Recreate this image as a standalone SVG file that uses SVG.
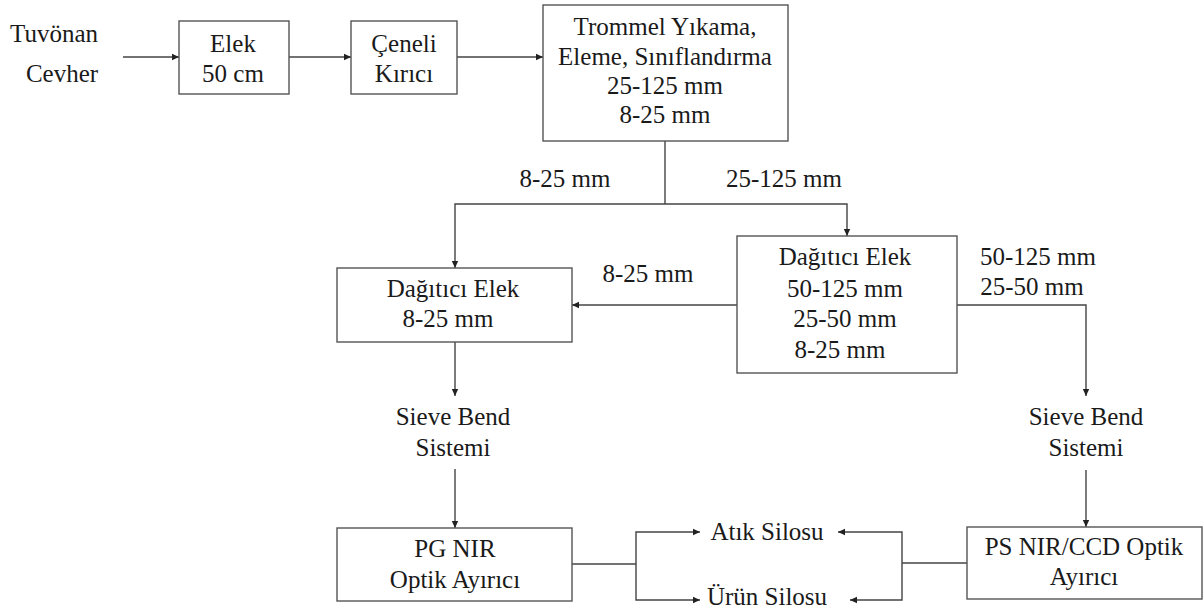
<svg xmlns="http://www.w3.org/2000/svg" width="1204" height="608" viewBox="0 0 1204 608">
<defs>
<marker id="ah" markerWidth="8" markerHeight="8" refX="7" refY="4" orient="auto" markerUnits="userSpaceOnUse">
<path d="M0,0.8 L7,4 L0,7.2 Z" fill="#222"/>
</marker>
<style>
text{font-family:'Liberation Serif','Tinos','Times New Roman','DejaVu Serif',serif;font-size:25px;fill:#1a1a1a;text-anchor:middle}
.box{fill:#fff;stroke:#555;stroke-width:1.4}
.ln{fill:none;stroke:#444;stroke-width:1.4}
.arr{fill:none;stroke:#444;stroke-width:1.4;marker-end:url(#ah)}
</style>
</defs>
<rect width="1204" height="608" fill="#fff"/>
<g id="connectors">
<path class="arr" d="M123,57 H179"/>
<path class="arr" d="M289,57 H351"/>
<path class="arr" d="M457,57 H543"/>
<path class="ln" d="M665,141 V204"/>
<path class="arr" d="M665,204 H455 V268"/>
<path class="arr" d="M665,204 H847 V236"/>
<path class="arr" d="M737,305 H572"/>
<path class="arr" d="M957,305 H1086 V396"/>
<path class="arr" d="M455,342 V396"/>
<path class="arr" d="M455,469 V528"/>
<path class="arr" d="M1086,470 V527"/>
<path class="ln" d="M572,564 H636"/>
<path class="arr" d="M636,564 V532 H700"/>
<path class="arr" d="M636,564 V600 H700"/>
<path class="ln" d="M967,563 H902"/>
<path class="arr" d="M902,563 V532 H838"/>
<path class="arr" d="M902,563 V600 H850"/>
</g>
<g id="input">
<text x="54" y="42">Tuvönan</text>
<text x="62" y="82">Cevher</text>
</g>
<g id="elek">
<rect class="box" x="179" y="21" width="110" height="73"/>
<text x="233" y="52">Elek</text>
<text x="233" y="82">50 cm</text>
</g>
<g id="ceneli">
<rect class="box" x="351" y="21" width="106" height="73"/>
<text x="404" y="52">Çeneli</text>
<text x="404" y="82">Kırıcı</text>
</g>
<g id="trommel">
<rect class="box" x="543" y="5" width="245" height="136"/>
<text x="665" y="35">Trommel Yıkama,</text>
<text x="665" y="65">Eleme, Sınıflandırma</text>
<text x="665" y="94">25-125 mm</text>
<text x="665" y="123">8-25 mm</text>
</g>
<g id="labels">
<text x="565" y="187">8-25 mm</text>
<text x="784" y="187">25-125 mm</text>
<text x="648" y="282">8-25 mm</text>
<text x="1038" y="265">50-125 mm</text>
<text x="1032" y="295">25-50 mm</text>
</g>
<g id="dagitici-left">
<rect class="box" x="337" y="268" width="235" height="74"/>
<text x="453" y="297">Dağıtıcı Elek</text>
<text x="448" y="327">8-25 mm</text>
</g>
<g id="dagitici-right">
<rect class="box" x="737" y="236" width="220" height="137"/>
<text x="845" y="265">Dağıtıcı Elek</text>
<text x="845" y="297">50-125 mm</text>
<text x="845" y="327">25-50 mm</text>
<text x="840" y="358">8-25 mm</text>
</g>
<g id="sieve-left">
<text x="453" y="425">Sieve Bend</text>
<text x="453" y="456">Sistemi</text>
</g>
<g id="sieve-right">
<text x="1086" y="425">Sieve Bend</text>
<text x="1086" y="456">Sistemi</text>
</g>
<g id="pg-nir">
<rect class="box" x="337" y="528" width="235" height="73"/>
<text x="455" y="557">PG NIR</text>
<text x="455" y="588">Optik Ayırıcı</text>
</g>
<g id="ps-nir">
<rect class="box" x="967" y="527" width="235" height="72"/>
<text x="1084" y="555">PS NIR/CCD Optik</text>
<text x="1084" y="585">Ayırıcı</text>
</g>
<g id="atik">
<text x="767" y="540">Atık Silosu</text>
</g>
<g id="urun">
<text x="767" y="605">Ürün Silosu</text>
</g>
</svg>
